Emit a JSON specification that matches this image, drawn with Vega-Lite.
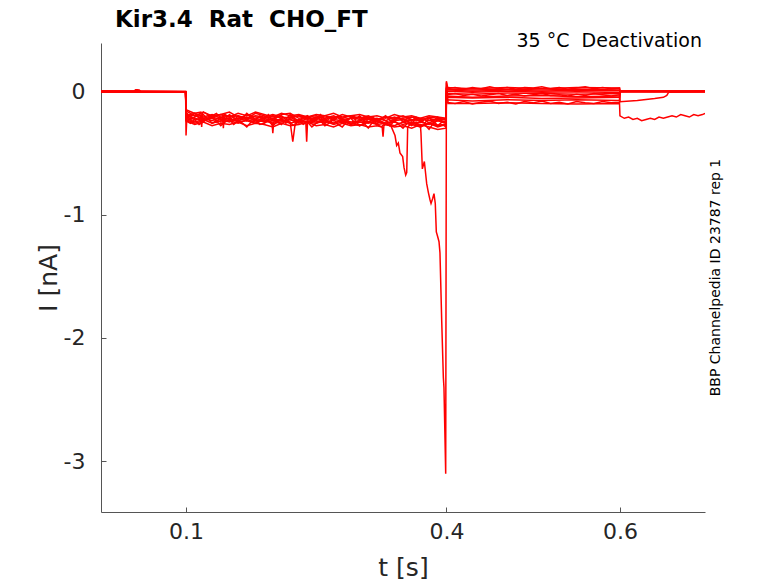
{
  "$schema": "https://vega.github.io/schema/vega-lite/v6.json",
  "width": 604,
  "height": 469,
  "autosize": {"type": "none"},
  "padding": {"left": 101, "top": 43, "right": 73, "bottom": 71},
  "background": "white",
  "title": {
    "text": "Kir3.4\u00a0 Rat\u00a0 CHO_FT",
    "anchor": "start",
    "frame": "group",
    "dx": 14,
    "offset": 0,
    "dy": 18,
    "baseline": "alphabetic",
    "font": "DejaVu Sans",
    "fontSize": 23,
    "fontWeight": "bold",
    "color": "black"
  },
  "config": {
    "view": {"stroke": null},
    "axis": {
      "grid": false,
      "domainColor": "#555555",
      "tickColor": "#555555",
      "labelFont": "DejaVu Sans",
      "labelFontSize": 22,
      "labelColor": "#262626",
      "titleFont": "DejaVu Sans",
      "titleFontSize": 25,
      "titleFontWeight": "normal",
      "titleColor": "#262626"
    }
  },
  "layer": [
    {
      "data": {
        "values": [
          {"s":1,"t":0.002,"i":0.0},{"s":1,"t":0.02,"i":-0.003},{"s":1,"t":0.04,"i":0.0},{"s":1,"t":0.042,"i":0.012},{"s":1,"t":0.046,"i":0.01},{"s":1,"t":0.048,"i":-0.005},{"s":1,"t":0.07,"i":-0.004},{"s":1,"t":0.0995,"i":-0.004},
          {"s":1,"t":0.1,"i":-0.16},{"s":1,"t":0.11,"i":-0.2},{"s":1,"t":0.12,"i":-0.17},{"s":1,"t":0.13,"i":-0.21},{"s":1,"t":0.14,"i":-0.19},{"s":1,"t":0.15,"i":-0.17},{"s":1,"t":0.16,"i":-0.21},{"s":1,"t":0.17,"i":-0.22},{"s":1,"t":0.18,"i":-0.18},{"s":1,"t":0.19,"i":-0.2},{"s":1,"t":0.2,"i":-0.23},{"s":1,"t":0.21,"i":-0.19},{"s":1,"t":0.22,"i":-0.18},{"s":1,"t":0.23,"i":-0.22},{"s":1,"t":0.24,"i":-0.21},{"s":1,"t":0.25,"i":-0.23},{"s":1,"t":0.26,"i":-0.2},{"s":1,"t":0.27,"i":-0.22},{"s":1,"t":0.28,"i":-0.19},{"s":1,"t":0.29,"i":-0.21},{"s":1,"t":0.3,"i":-0.23},{"s":1,"t":0.31,"i":-0.21},{"s":1,"t":0.32,"i":-0.24},{"s":1,"t":0.33,"i":-0.21},{"s":1,"t":0.34,"i":-0.22},{"s":1,"t":0.35,"i":-0.2},{"s":1,"t":0.36,"i":-0.23},{"s":1,"t":0.37,"i":-0.24},{"s":1,"t":0.38,"i":-0.21},{"s":1,"t":0.39,"i":-0.22},{"s":1,"t":0.3995,"i":-0.23},
          {"s":1,"t":0.4,"i":0.03},{"s":1,"t":0.43,"i":0.02},{"s":1,"t":0.47,"i":0.03},{"s":1,"t":0.51,"i":0.02},{"s":1,"t":0.55,"i":0.03},{"s":1,"t":0.5995,"i":0.025},{"s":1,"t":0.6,"i":0.0},{"s":1,"t":0.64,"i":-0.005},{"s":1,"t":0.698,"i":0.0},

          {"s":2,"t":0.002,"i":-0.002},{"s":2,"t":0.04,"i":-0.001},{"s":2,"t":0.043,"i":0.01},{"s":2,"t":0.047,"i":-0.006},{"s":2,"t":0.0995,"i":-0.006},
          {"s":2,"t":0.1,"i":-0.36},{"s":2,"t":0.101,"i":-0.2},{"s":2,"t":0.11,"i":-0.22},{"s":2,"t":0.12,"i":-0.24},{"s":2,"t":0.13,"i":-0.21},{"s":2,"t":0.14,"i":-0.23},{"s":2,"t":0.15,"i":-0.25},{"s":2,"t":0.16,"i":-0.22},{"s":2,"t":0.17,"i":-0.21},{"s":2,"t":0.18,"i":-0.24},{"s":2,"t":0.19,"i":-0.22},{"s":2,"t":0.2,"i":-0.24},{"s":2,"t":0.21,"i":-0.23},{"s":2,"t":0.22,"i":-0.25},{"s":2,"t":0.223,"i":-0.41},{"s":2,"t":0.226,"i":-0.25},{"s":2,"t":0.23,"i":-0.23},{"s":2,"t":0.24,"i":-0.25},{"s":2,"t":0.25,"i":-0.22},{"s":2,"t":0.26,"i":-0.24},{"s":2,"t":0.27,"i":-0.26},{"s":2,"t":0.28,"i":-0.23},{"s":2,"t":0.29,"i":-0.25},{"s":2,"t":0.3,"i":-0.24},{"s":2,"t":0.31,"i":-0.22},{"s":2,"t":0.32,"i":-0.25},{"s":2,"t":0.33,"i":-0.26},{"s":2,"t":0.34,"i":-0.24},{"s":2,"t":0.35,"i":-0.23},{"s":2,"t":0.36,"i":-0.26},{"s":2,"t":0.37,"i":-0.25},{"s":2,"t":0.38,"i":-0.27},{"s":2,"t":0.39,"i":-0.24},{"s":2,"t":0.3995,"i":-0.26},
          {"s":2,"t":0.4,"i":0.0},{"s":2,"t":0.43,"i":-0.01},{"s":2,"t":0.47,"i":0.0},{"s":2,"t":0.51,"i":-0.01},{"s":2,"t":0.55,"i":-0.005},{"s":2,"t":0.5995,"i":-0.01},{"s":2,"t":0.6,"i":0.0},{"s":2,"t":0.698,"i":0.0},

          {"s":3,"t":0.002,"i":0.002},{"s":3,"t":0.05,"i":0.0},{"s":3,"t":0.0995,"i":-0.002},
          {"s":3,"t":0.1,"i":-0.22},{"s":3,"t":0.11,"i":-0.25},{"s":3,"t":0.12,"i":-0.23},{"s":3,"t":0.13,"i":-0.26},{"s":3,"t":0.14,"i":-0.24},{"s":3,"t":0.15,"i":-0.22},{"s":3,"t":0.16,"i":-0.25},{"s":3,"t":0.17,"i":-0.24},{"s":3,"t":0.18,"i":-0.26},{"s":3,"t":0.19,"i":-0.23},{"s":3,"t":0.199,"i":-0.25},{"s":3,"t":0.2,"i":-0.34},{"s":3,"t":0.201,"i":-0.25},{"s":3,"t":0.21,"i":-0.24},{"s":3,"t":0.22,"i":-0.26},{"s":3,"t":0.23,"i":-0.24},{"s":3,"t":0.238,"i":-0.25},{"s":3,"t":0.239,"i":-0.41},{"s":3,"t":0.24,"i":-0.25},{"s":3,"t":0.25,"i":-0.26},{"s":3,"t":0.26,"i":-0.24},{"s":3,"t":0.27,"i":-0.27},{"s":3,"t":0.28,"i":-0.25},{"s":3,"t":0.29,"i":-0.26},{"s":3,"t":0.3,"i":-0.28},{"s":3,"t":0.31,"i":-0.25},{"s":3,"t":0.32,"i":-0.27},{"s":3,"t":0.33,"i":-0.26},{"s":3,"t":0.34,"i":-0.28},{"s":3,"t":0.35,"i":-0.25},{"s":3,"t":0.36,"i":-0.27},{"s":3,"t":0.37,"i":-0.29},{"s":3,"t":0.38,"i":-0.26},{"s":3,"t":0.39,"i":-0.28},{"s":3,"t":0.3995,"i":-0.27},
          {"s":3,"t":0.4,"i":-0.04},{"s":3,"t":0.43,"i":-0.05},{"s":3,"t":0.47,"i":-0.04},{"s":3,"t":0.51,"i":-0.035},{"s":3,"t":0.55,"i":-0.045},{"s":3,"t":0.5995,"i":-0.04},{"s":3,"t":0.6,"i":0.0},{"s":3,"t":0.698,"i":-0.005},

          {"s":4,"t":0.002,"i":-0.004},{"s":4,"t":0.0995,"i":-0.008},
          {"s":4,"t":0.1,"i":-0.15},{"s":4,"t":0.11,"i":-0.18},{"s":4,"t":0.117,"i":-0.17},{"s":4,"t":0.118,"i":-0.29},{"s":4,"t":0.119,"i":-0.18},{"s":4,"t":0.12,"i":-0.17},{"s":4,"t":0.13,"i":-0.2},{"s":4,"t":0.142,"i":-0.19},{"s":4,"t":0.143,"i":-0.3},{"s":4,"t":0.144,"i":-0.19},{"s":4,"t":0.15,"i":-0.21},{"s":4,"t":0.16,"i":-0.18},{"s":4,"t":0.17,"i":-0.2},{"s":4,"t":0.18,"i":-0.17},{"s":4,"t":0.19,"i":-0.19},{"s":4,"t":0.2,"i":-0.21},{"s":4,"t":0.21,"i":-0.18},{"s":4,"t":0.22,"i":-0.2},{"s":4,"t":0.23,"i":-0.19},{"s":4,"t":0.24,"i":-0.21},{"s":4,"t":0.25,"i":-0.19},{"s":4,"t":0.26,"i":-0.2},{"s":4,"t":0.27,"i":-0.18},{"s":4,"t":0.28,"i":-0.21},{"s":4,"t":0.29,"i":-0.2},{"s":4,"t":0.3,"i":-0.19},{"s":4,"t":0.31,"i":-0.21},{"s":4,"t":0.32,"i":-0.2},{"s":4,"t":0.33,"i":-0.22},{"s":4,"t":0.34,"i":-0.19},{"s":4,"t":0.35,"i":-0.21},{"s":4,"t":0.36,"i":-0.2},{"s":4,"t":0.37,"i":-0.22},{"s":4,"t":0.38,"i":-0.2},{"s":4,"t":0.39,"i":-0.21},{"s":4,"t":0.3995,"i":-0.22},
          {"s":4,"t":0.4,"i":0.08},{"s":4,"t":0.402,"i":0.01},{"s":4,"t":0.43,"i":0.0},{"s":4,"t":0.47,"i":0.01},{"s":4,"t":0.51,"i":0.0},{"s":4,"t":0.55,"i":0.01},{"s":4,"t":0.5995,"i":0.005},{"s":4,"t":0.6,"i":0.0},{"s":4,"t":0.698,"i":0.0},

          {"s":5,"t":0.002,"i":-0.006},{"s":5,"t":0.0995,"i":-0.005},
          {"s":5,"t":0.1,"i":-0.24},{"s":5,"t":0.11,"i":-0.27},{"s":5,"t":0.12,"i":-0.25},{"s":5,"t":0.13,"i":-0.28},{"s":5,"t":0.14,"i":-0.26},{"s":5,"t":0.15,"i":-0.27},{"s":5,"t":0.16,"i":-0.25},{"s":5,"t":0.17,"i":-0.28},{"s":5,"t":0.18,"i":-0.26},{"s":5,"t":0.19,"i":-0.27},{"s":5,"t":0.2,"i":-0.29},{"s":5,"t":0.21,"i":-0.26},{"s":5,"t":0.22,"i":-0.28},{"s":5,"t":0.23,"i":-0.27},{"s":5,"t":0.24,"i":-0.25},{"s":5,"t":0.25,"i":-0.28},{"s":5,"t":0.26,"i":-0.27},{"s":5,"t":0.27,"i":-0.29},{"s":5,"t":0.28,"i":-0.26},{"s":5,"t":0.29,"i":-0.28},{"s":5,"t":0.3,"i":-0.27},{"s":5,"t":0.31,"i":-0.29},{"s":5,"t":0.32,"i":-0.28},{"s":5,"t":0.326,"i":-0.29},{"s":5,"t":0.327,"i":-0.37},{"s":5,"t":0.328,"i":-0.28},{"s":5,"t":0.33,"i":-0.27},{"s":5,"t":0.34,"i":-0.29},{"s":5,"t":0.35,"i":-0.28},{"s":5,"t":0.36,"i":-0.3},{"s":5,"t":0.37,"i":-0.27},{"s":5,"t":0.38,"i":-0.29},{"s":5,"t":0.39,"i":-0.31},{"s":5,"t":0.3995,"i":-0.3},
          {"s":5,"t":0.4,"i":-0.07},{"s":5,"t":0.43,"i":-0.08},{"s":5,"t":0.47,"i":-0.07},{"s":5,"t":0.51,"i":-0.075},{"s":5,"t":0.55,"i":-0.07},{"s":5,"t":0.5995,"i":-0.075},{"s":5,"t":0.6,"i":0.0},{"s":5,"t":0.698,"i":-0.005},

          {"s":6,"t":0.002,"i":-0.003},{"s":6,"t":0.041,"i":-0.002},{"s":6,"t":0.044,"i":0.008},{"s":6,"t":0.048,"i":-0.007},{"s":6,"t":0.0995,"i":-0.007},
          {"s":6,"t":0.1,"i":-0.2},{"s":6,"t":0.11,"i":-0.18},{"s":6,"t":0.12,"i":-0.21},{"s":6,"t":0.13,"i":-0.19},{"s":6,"t":0.14,"i":-0.22},{"s":6,"t":0.15,"i":-0.2},{"s":6,"t":0.16,"i":-0.23},{"s":6,"t":0.17,"i":-0.19},{"s":6,"t":0.18,"i":-0.21},{"s":6,"t":0.19,"i":-0.22},{"s":6,"t":0.2,"i":-0.2},{"s":6,"t":0.21,"i":-0.22},{"s":6,"t":0.22,"i":-0.21},{"s":6,"t":0.23,"i":-0.2},{"s":6,"t":0.24,"i":-0.23},{"s":6,"t":0.25,"i":-0.21},{"s":6,"t":0.26,"i":-0.22},{"s":6,"t":0.27,"i":-0.2},{"s":6,"t":0.28,"i":-0.23},{"s":6,"t":0.29,"i":-0.22},{"s":6,"t":0.3,"i":-0.21},{"s":6,"t":0.31,"i":-0.23},{"s":6,"t":0.32,"i":-0.22},{"s":6,"t":0.33,"i":-0.24},{"s":6,"t":0.34,"i":-0.21},{"s":6,"t":0.35,"i":-0.23},{"s":6,"t":0.36,"i":-0.24},{"s":6,"t":0.37,"i":-0.22},{"s":6,"t":0.38,"i":-0.24},{"s":6,"t":0.39,"i":-0.23},{"s":6,"t":0.3995,"i":-0.25},
          {"s":6,"t":0.4,"i":-0.02},{"s":6,"t":0.43,"i":-0.025},{"s":6,"t":0.47,"i":-0.015},{"s":6,"t":0.51,"i":-0.02},{"s":6,"t":0.55,"i":-0.025},{"s":6,"t":0.5995,"i":-0.02},{"s":6,"t":0.6,"i":-0.085},{"s":6,"t":0.62,"i":-0.075},{"s":6,"t":0.64,"i":-0.06},{"s":6,"t":0.65,"i":-0.05},{"s":6,"t":0.654,"i":-0.035},{"s":6,"t":0.656,"i":-0.01},{"s":6,"t":0.698,"i":-0.005},

          {"s":7,"t":0.002,"i":-0.005},{"s":7,"t":0.0995,"i":-0.006},
          {"s":7,"t":0.1,"i":-0.21},{"s":7,"t":0.11,"i":-0.23},{"s":7,"t":0.12,"i":-0.22},{"s":7,"t":0.13,"i":-0.24},{"s":7,"t":0.14,"i":-0.21},{"s":7,"t":0.15,"i":-0.23},{"s":7,"t":0.16,"i":-0.24},{"s":7,"t":0.17,"i":-0.22},{"s":7,"t":0.18,"i":-0.23},{"s":7,"t":0.19,"i":-0.25},{"s":7,"t":0.2,"i":-0.22},{"s":7,"t":0.21,"i":-0.24},{"s":7,"t":0.22,"i":-0.23},{"s":7,"t":0.23,"i":-0.25},{"s":7,"t":0.24,"i":-0.22},{"s":7,"t":0.25,"i":-0.24},{"s":7,"t":0.26,"i":-0.26},{"s":7,"t":0.27,"i":-0.23},{"s":7,"t":0.28,"i":-0.24},{"s":7,"t":0.29,"i":-0.26},{"s":7,"t":0.3,"i":-0.24},{"s":7,"t":0.31,"i":-0.25},{"s":7,"t":0.32,"i":-0.23},{"s":7,"t":0.33,"i":-0.26},{"s":7,"t":0.34,"i":-0.25},{"s":7,"t":0.35,"i":-0.27},{"s":7,"t":0.36,"i":-0.25},{"s":7,"t":0.37,"i":-0.27},{"s":7,"t":0.3707,"i":-0.34},{"s":7,"t":0.3723,"i":-0.63},{"s":7,"t":0.3746,"i":-0.57},{"s":7,"t":0.3773,"i":-0.75},{"s":7,"t":0.3792,"i":-0.82},{"s":7,"t":0.3811,"i":-0.88},{"s":7,"t":0.3823,"i":-0.91},{"s":7,"t":0.3842,"i":-0.87},{"s":7,"t":0.3857,"i":-0.83},{"s":7,"t":0.3872,"i":-0.91},{"s":7,"t":0.3884,"i":-1.14},{"s":7,"t":0.39,"i":-1.18},{"s":7,"t":0.3915,"i":-1.22},{"s":7,"t":0.3926,"i":-1.31},{"s":7,"t":0.3946,"i":-1.86},{"s":7,"t":0.3965,"i":-2.32},{"s":7,"t":0.3972,"i":-2.4},{"s":7,"t":0.3992,"i":-3.1},
          {"s":7,"t":0.4,"i":0.07},{"s":7,"t":0.402,"i":-0.1},{"s":7,"t":0.43,"i":-0.1},{"s":7,"t":0.47,"i":-0.095},{"s":7,"t":0.51,"i":-0.1},{"s":7,"t":0.55,"i":-0.105},{"s":7,"t":0.5995,"i":-0.1},{"s":7,"t":0.6,"i":-0.2},{"s":7,"t":0.605,"i":-0.22},{"s":7,"t":0.61,"i":-0.21},{"s":7,"t":0.615,"i":-0.23},{"s":7,"t":0.62,"i":-0.22},{"s":7,"t":0.625,"i":-0.24},{"s":7,"t":0.63,"i":-0.23},{"s":7,"t":0.635,"i":-0.22},{"s":7,"t":0.64,"i":-0.23},{"s":7,"t":0.645,"i":-0.21},{"s":7,"t":0.65,"i":-0.22},{"s":7,"t":0.655,"i":-0.21},{"s":7,"t":0.66,"i":-0.2},{"s":7,"t":0.665,"i":-0.21},{"s":7,"t":0.67,"i":-0.19},{"s":7,"t":0.675,"i":-0.2},{"s":7,"t":0.68,"i":-0.21},{"s":7,"t":0.685,"i":-0.19},{"s":7,"t":0.69,"i":-0.2},{"s":7,"t":0.695,"i":-0.19},{"s":7,"t":0.698,"i":-0.18},

          {"s":8,"t":0.002,"i":-0.002},{"s":8,"t":0.0995,"i":-0.004},
          {"s":8,"t":0.1,"i":-0.23},{"s":8,"t":0.11,"i":-0.26},{"s":8,"t":0.12,"i":-0.24},{"s":8,"t":0.13,"i":-0.22},{"s":8,"t":0.14,"i":-0.25},{"s":8,"t":0.15,"i":-0.24},{"s":8,"t":0.16,"i":-0.26},{"s":8,"t":0.17,"i":-0.23},{"s":8,"t":0.18,"i":-0.25},{"s":8,"t":0.19,"i":-0.24},{"s":8,"t":0.2,"i":-0.26},{"s":8,"t":0.21,"i":-0.25},{"s":8,"t":0.22,"i":-0.23},{"s":8,"t":0.23,"i":-0.26},{"s":8,"t":0.24,"i":-0.24},{"s":8,"t":0.25,"i":-0.25},{"s":8,"t":0.26,"i":-0.23},{"s":8,"t":0.27,"i":-0.26},{"s":8,"t":0.28,"i":-0.24},{"s":8,"t":0.29,"i":-0.27},{"s":8,"t":0.3,"i":-0.25},{"s":8,"t":0.31,"i":-0.26},{"s":8,"t":0.32,"i":-0.24},{"s":8,"t":0.33,"i":-0.27},{"s":8,"t":0.336,"i":-0.28},{"s":8,"t":0.3408,"i":-0.36},{"s":8,"t":0.3427,"i":-0.44},{"s":8,"t":0.3446,"i":-0.42},{"s":8,"t":0.3465,"i":-0.5},{"s":8,"t":0.3496,"i":-0.53},{"s":8,"t":0.3512,"i":-0.62},{"s":8,"t":0.3531,"i":-0.68},{"s":8,"t":0.3543,"i":-0.66},{"s":8,"t":0.3554,"i":-0.29},{"s":8,"t":0.36,"i":-0.26},{"s":8,"t":0.37,"i":-0.28},{"s":8,"t":0.38,"i":-0.26},{"s":8,"t":0.39,"i":-0.29},{"s":8,"t":0.3995,"i":-0.27},
          {"s":8,"t":0.4,"i":-0.05},{"s":8,"t":0.43,"i":-0.055},{"s":8,"t":0.47,"i":-0.05},{"s":8,"t":0.51,"i":-0.06},{"s":8,"t":0.55,"i":-0.055},{"s":8,"t":0.5995,"i":-0.05},{"s":8,"t":0.6,"i":0.0},{"s":8,"t":0.698,"i":0.0},

          {"s":9,"t":0.002,"i":0.001},{"s":9,"t":0.0995,"i":-0.003},
          {"s":9,"t":0.1,"i":-0.19},{"s":9,"t":0.11,"i":-0.2},{"s":9,"t":0.12,"i":-0.22},{"s":9,"t":0.13,"i":-0.2},{"s":9,"t":0.14,"i":-0.19},{"s":9,"t":0.15,"i":-0.21},{"s":9,"t":0.16,"i":-0.2},{"s":9,"t":0.17,"i":-0.22},{"s":9,"t":0.18,"i":-0.2},{"s":9,"t":0.19,"i":-0.21},{"s":9,"t":0.2,"i":-0.19},{"s":9,"t":0.21,"i":-0.21},{"s":9,"t":0.22,"i":-0.22},{"s":9,"t":0.23,"i":-0.2},{"s":9,"t":0.24,"i":-0.21},{"s":9,"t":0.25,"i":-0.2},{"s":9,"t":0.26,"i":-0.22},{"s":9,"t":0.27,"i":-0.21},{"s":9,"t":0.28,"i":-0.22},{"s":9,"t":0.29,"i":-0.2},{"s":9,"t":0.3,"i":-0.22},{"s":9,"t":0.31,"i":-0.2},{"s":9,"t":0.32,"i":-0.23},{"s":9,"t":0.33,"i":-0.21},{"s":9,"t":0.34,"i":-0.23},{"s":9,"t":0.35,"i":-0.22},{"s":9,"t":0.36,"i":-0.21},{"s":9,"t":0.37,"i":-0.23},{"s":9,"t":0.38,"i":-0.22},{"s":9,"t":0.39,"i":-0.24},{"s":9,"t":0.3995,"i":-0.22},
          {"s":9,"t":0.4,"i":0.015},{"s":9,"t":0.43,"i":0.01},{"s":9,"t":0.47,"i":0.015},{"s":9,"t":0.51,"i":0.01},{"s":9,"t":0.55,"i":0.015},{"s":9,"t":0.5995,"i":0.01},{"s":9,"t":0.6,"i":-0.005},{"s":9,"t":0.698,"i":0.0},

          {"s":10,"t":0.002,"i":-0.003},{"s":10,"t":0.0995,"i":-0.006},
          {"s":10,"t":0.1,"i":-0.17},{"s":10,"t":0.105,"i":-0.21},{"s":10,"t":0.11,"i":-0.18},{"s":10,"t":0.115,"i":-0.22},{"s":10,"t":0.12,"i":-0.19},{"s":10,"t":0.125,"i":-0.23},{"s":10,"t":0.13,"i":-0.2},{"s":10,"t":0.135,"i":-0.18},{"s":10,"t":0.14,"i":-0.22},{"s":10,"t":0.145,"i":-0.19},{"s":10,"t":0.15,"i":-0.21},{"s":10,"t":0.155,"i":-0.24},{"s":10,"t":0.16,"i":-0.2},{"s":10,"t":0.165,"i":-0.22},{"s":10,"t":0.17,"i":-0.18},{"s":10,"t":0.175,"i":-0.21},{"s":10,"t":0.18,"i":-0.23},{"s":10,"t":0.185,"i":-0.2},{"s":10,"t":0.19,"i":-0.22},{"s":10,"t":0.195,"i":-0.19},{"s":10,"t":0.2,"i":-0.24},{"s":10,"t":0.205,"i":-0.21},{"s":10,"t":0.21,"i":-0.2},{"s":10,"t":0.215,"i":-0.23},{"s":10,"t":0.22,"i":-0.19},{"s":10,"t":0.225,"i":-0.22},{"s":10,"t":0.23,"i":-0.24},{"s":10,"t":0.235,"i":-0.21},{"s":10,"t":0.24,"i":-0.2},{"s":10,"t":0.245,"i":-0.23},{"s":10,"t":0.25,"i":-0.22},{"s":10,"t":0.255,"i":-0.19},{"s":10,"t":0.26,"i":-0.24},{"s":10,"t":0.265,"i":-0.21},{"s":10,"t":0.27,"i":-0.23},{"s":10,"t":0.275,"i":-0.2},{"s":10,"t":0.28,"i":-0.22},{"s":10,"t":0.285,"i":-0.25},{"s":10,"t":0.29,"i":-0.21},{"s":10,"t":0.295,"i":-0.23},{"s":10,"t":0.3,"i":-0.2},{"s":10,"t":0.305,"i":-0.24},{"s":10,"t":0.31,"i":-0.22},{"s":10,"t":0.315,"i":-0.21},{"s":10,"t":0.32,"i":-0.25},{"s":10,"t":0.325,"i":-0.22},{"s":10,"t":0.33,"i":-0.2},{"s":10,"t":0.335,"i":-0.24},{"s":10,"t":0.34,"i":-0.23},{"s":10,"t":0.345,"i":-0.21},{"s":10,"t":0.35,"i":-0.25},{"s":10,"t":0.355,"i":-0.22},{"s":10,"t":0.36,"i":-0.24},{"s":10,"t":0.365,"i":-0.21},{"s":10,"t":0.37,"i":-0.23},{"s":10,"t":0.375,"i":-0.26},{"s":10,"t":0.38,"i":-0.22},{"s":10,"t":0.385,"i":-0.24},{"s":10,"t":0.39,"i":-0.21},{"s":10,"t":0.395,"i":-0.25},{"s":10,"t":0.3995,"i":-0.24},
          {"s":10,"t":0.4,"i":-0.03},{"s":10,"t":0.41,"i":-0.02},{"s":10,"t":0.42,"i":-0.035},{"s":10,"t":0.43,"i":-0.025},{"s":10,"t":0.44,"i":-0.04},{"s":10,"t":0.45,"i":-0.03},{"s":10,"t":0.46,"i":-0.02},{"s":10,"t":0.47,"i":-0.035},{"s":10,"t":0.48,"i":-0.025},{"s":10,"t":0.49,"i":-0.04},{"s":10,"t":0.5,"i":-0.03},{"s":10,"t":0.51,"i":-0.02},{"s":10,"t":0.52,"i":-0.035},{"s":10,"t":0.53,"i":-0.03},{"s":10,"t":0.54,"i":-0.04},{"s":10,"t":0.55,"i":-0.025},{"s":10,"t":0.56,"i":-0.035},{"s":10,"t":0.57,"i":-0.02},{"s":10,"t":0.58,"i":-0.03},{"s":10,"t":0.59,"i":-0.04},{"s":10,"t":0.5995,"i":-0.03},{"s":10,"t":0.6,"i":-0.005},{"s":10,"t":0.698,"i":0.0},

          {"s":11,"t":0.002,"i":-0.004},{"s":11,"t":0.0995,"i":-0.007},
          {"s":11,"t":0.1,"i":-0.24},{"s":11,"t":0.105,"i":-0.26},{"s":11,"t":0.11,"i":-0.23},{"s":11,"t":0.115,"i":-0.27},{"s":11,"t":0.12,"i":-0.25},{"s":11,"t":0.125,"i":-0.22},{"s":11,"t":0.13,"i":-0.26},{"s":11,"t":0.135,"i":-0.24},{"s":11,"t":0.14,"i":-0.28},{"s":11,"t":0.145,"i":-0.25},{"s":11,"t":0.15,"i":-0.23},{"s":11,"t":0.155,"i":-0.27},{"s":11,"t":0.16,"i":-0.24},{"s":11,"t":0.165,"i":-0.26},{"s":11,"t":0.17,"i":-0.29},{"s":11,"t":0.175,"i":-0.25},{"s":11,"t":0.18,"i":-0.23},{"s":11,"t":0.185,"i":-0.27},{"s":11,"t":0.19,"i":-0.26},{"s":11,"t":0.195,"i":-0.24},{"s":11,"t":0.2,"i":-0.28},{"s":11,"t":0.205,"i":-0.25},{"s":11,"t":0.21,"i":-0.27},{"s":11,"t":0.215,"i":-0.23},{"s":11,"t":0.22,"i":-0.26},{"s":11,"t":0.225,"i":-0.28},{"s":11,"t":0.23,"i":-0.24},{"s":11,"t":0.235,"i":-0.27},{"s":11,"t":0.24,"i":-0.25},{"s":11,"t":0.245,"i":-0.29},{"s":11,"t":0.25,"i":-0.26},{"s":11,"t":0.255,"i":-0.24},{"s":11,"t":0.26,"i":-0.28},{"s":11,"t":0.265,"i":-0.26},{"s":11,"t":0.27,"i":-0.23},{"s":11,"t":0.275,"i":-0.27},{"s":11,"t":0.28,"i":-0.29},{"s":11,"t":0.285,"i":-0.25},{"s":11,"t":0.29,"i":-0.27},{"s":11,"t":0.295,"i":-0.24},{"s":11,"t":0.3,"i":-0.28},{"s":11,"t":0.305,"i":-0.26},{"s":11,"t":0.31,"i":-0.3},{"s":11,"t":0.315,"i":-0.25},{"s":11,"t":0.32,"i":-0.27},{"s":11,"t":0.325,"i":-0.29},{"s":11,"t":0.33,"i":-0.26},{"s":11,"t":0.335,"i":-0.28},{"s":11,"t":0.34,"i":-0.24},{"s":11,"t":0.345,"i":-0.27},{"s":11,"t":0.35,"i":-0.3},{"s":11,"t":0.355,"i":-0.26},{"s":11,"t":0.36,"i":-0.28},{"s":11,"t":0.365,"i":-0.25},{"s":11,"t":0.37,"i":-0.29},{"s":11,"t":0.375,"i":-0.27},{"s":11,"t":0.38,"i":-0.31},{"s":11,"t":0.385,"i":-0.26},{"s":11,"t":0.39,"i":-0.28},{"s":11,"t":0.395,"i":-0.27},{"s":11,"t":0.3995,"i":-0.29},
          {"s":11,"t":0.4,"i":-0.09},{"s":11,"t":0.41,"i":-0.1},{"s":11,"t":0.42,"i":-0.085},{"s":11,"t":0.43,"i":-0.105},{"s":11,"t":0.44,"i":-0.09},{"s":11,"t":0.45,"i":-0.08},{"s":11,"t":0.46,"i":-0.1},{"s":11,"t":0.47,"i":-0.09},{"s":11,"t":0.48,"i":-0.105},{"s":11,"t":0.49,"i":-0.085},{"s":11,"t":0.5,"i":-0.095},{"s":11,"t":0.51,"i":-0.08},{"s":11,"t":0.52,"i":-0.1},{"s":11,"t":0.53,"i":-0.09},{"s":11,"t":0.54,"i":-0.105},{"s":11,"t":0.55,"i":-0.085},{"s":11,"t":0.56,"i":-0.095},{"s":11,"t":0.57,"i":-0.1},{"s":11,"t":0.58,"i":-0.085},{"s":11,"t":0.59,"i":-0.095},{"s":11,"t":0.5995,"i":-0.09},{"s":11,"t":0.6,"i":0.0},{"s":11,"t":0.698,"i":-0.005},

          {"s":12,"t":0.002,"i":-0.001},{"s":12,"t":0.0995,"i":-0.005},
          {"s":12,"t":0.1,"i":-0.2},{"s":12,"t":0.105,"i":-0.23},{"s":12,"t":0.11,"i":-0.21},{"s":12,"t":0.115,"i":-0.19},{"s":12,"t":0.12,"i":-0.24},{"s":12,"t":0.125,"i":-0.22},{"s":12,"t":0.13,"i":-0.2},{"s":12,"t":0.135,"i":-0.25},{"s":12,"t":0.14,"i":-0.21},{"s":12,"t":0.145,"i":-0.23},{"s":12,"t":0.15,"i":-0.19},{"s":12,"t":0.155,"i":-0.22},{"s":12,"t":0.16,"i":-0.25},{"s":12,"t":0.165,"i":-0.21},{"s":12,"t":0.17,"i":-0.24},{"s":12,"t":0.175,"i":-0.2},{"s":12,"t":0.18,"i":-0.23},{"s":12,"t":0.185,"i":-0.21},{"s":12,"t":0.19,"i":-0.25},{"s":12,"t":0.195,"i":-0.22},{"s":12,"t":0.2,"i":-0.2},{"s":12,"t":0.205,"i":-0.24},{"s":12,"t":0.21,"i":-0.22},{"s":12,"t":0.215,"i":-0.26},{"s":12,"t":0.22,"i":-0.21},{"s":12,"t":0.225,"i":-0.23},{"s":12,"t":0.23,"i":-0.25},{"s":12,"t":0.235,"i":-0.22},{"s":12,"t":0.24,"i":-0.2},{"s":12,"t":0.245,"i":-0.24},{"s":12,"t":0.25,"i":-0.23},{"s":12,"t":0.255,"i":-0.21},{"s":12,"t":0.26,"i":-0.26},{"s":12,"t":0.265,"i":-0.22},{"s":12,"t":0.27,"i":-0.24},{"s":12,"t":0.275,"i":-0.21},{"s":12,"t":0.28,"i":-0.25},{"s":12,"t":0.285,"i":-0.23},{"s":12,"t":0.29,"i":-0.22},{"s":12,"t":0.295,"i":-0.26},{"s":12,"t":0.3,"i":-0.24},{"s":12,"t":0.305,"i":-0.21},{"s":12,"t":0.31,"i":-0.25},{"s":12,"t":0.315,"i":-0.23},{"s":12,"t":0.32,"i":-0.27},{"s":12,"t":0.325,"i":-0.22},{"s":12,"t":0.33,"i":-0.24},{"s":12,"t":0.335,"i":-0.26},{"s":12,"t":0.34,"i":-0.23},{"s":12,"t":0.345,"i":-0.21},{"s":12,"t":0.35,"i":-0.25},{"s":12,"t":0.355,"i":-0.24},{"s":12,"t":0.36,"i":-0.27},{"s":12,"t":0.365,"i":-0.22},{"s":12,"t":0.37,"i":-0.25},{"s":12,"t":0.375,"i":-0.23},{"s":12,"t":0.38,"i":-0.26},{"s":12,"t":0.385,"i":-0.24},{"s":12,"t":0.39,"i":-0.28},{"s":12,"t":0.395,"i":-0.25},{"s":12,"t":0.3995,"i":-0.26},
          {"s":12,"t":0.4,"i":0.02},{"s":12,"t":0.41,"i":0.03},{"s":12,"t":0.42,"i":0.015},{"s":12,"t":0.43,"i":0.03},{"s":12,"t":0.44,"i":0.02},{"s":12,"t":0.45,"i":0.035},{"s":12,"t":0.46,"i":0.02},{"s":12,"t":0.47,"i":0.03},{"s":12,"t":0.48,"i":0.015},{"s":12,"t":0.49,"i":0.03},{"s":12,"t":0.5,"i":0.025},{"s":12,"t":0.51,"i":0.035},{"s":12,"t":0.52,"i":0.02},{"s":12,"t":0.53,"i":0.03},{"s":12,"t":0.54,"i":0.015},{"s":12,"t":0.55,"i":0.025},{"s":12,"t":0.56,"i":0.035},{"s":12,"t":0.57,"i":0.02},{"s":12,"t":0.58,"i":0.03},{"s":12,"t":0.59,"i":0.02},{"s":12,"t":0.5995,"i":0.025},{"s":12,"t":0.6,"i":0.0},{"s":12,"t":0.698,"i":0.0}
        ]
      },
      "mark": {"type": "line", "color": "#ff0000", "strokeWidth": 1.5, "clip": true},
      "encoding": {
        "x": {
          "field": "t",
          "type": "quantitative",
          "scale": {"domain": [0.002, 0.698], "nice": false, "zero": false},
          "axis": {
            "title": "t [s]",
            "values": [0.1, 0.4, 0.6],
            "format": ".1f",
            "tickSize": -5,
            "labelPadding": 14,
            "titlePadding": 13
          }
        },
        "y": {
          "field": "i",
          "type": "quantitative",
          "scale": {"domain": [-3.41, 0.39], "nice": false, "zero": false},
          "axis": {
            "title": "I [nA]",
            "values": [-3, -2, -1, 0],
            "labelExpr": "'' + datum.value",
            "tickSize": -5,
            "labelPadding": 21,
            "titlePadding": 2
          }
        },
        "detail": {"field": "s", "type": "nominal"}
      }
    },
    {
      "data": {"values": [{}]},
      "mark": {"type": "text", "align": "right", "baseline": "middle", "font": "DejaVu Sans", "fontSize": 19, "color": "black", "dx": -3, "dy": -2},
      "encoding": {
        "x": {"datum": 0.698},
        "y": {"datum": 0.39},
        "text": {"value": "35 °C\u00a0 Deactivation"}
      }
    },
    {
      "data": {"values": [{}]},
      "mark": {"type": "text", "angle": 270, "align": "center", "baseline": "middle", "font": "DejaVu Sans", "fontSize": 14, "color": "black", "dy": 11},
      "encoding": {
        "x": {"datum": 0.698},
        "y": {"datum": -1.51},
        "text": {"value": "BBP Channelpedia ID 23787 rep 1"}
      }
    }
  ]
}
